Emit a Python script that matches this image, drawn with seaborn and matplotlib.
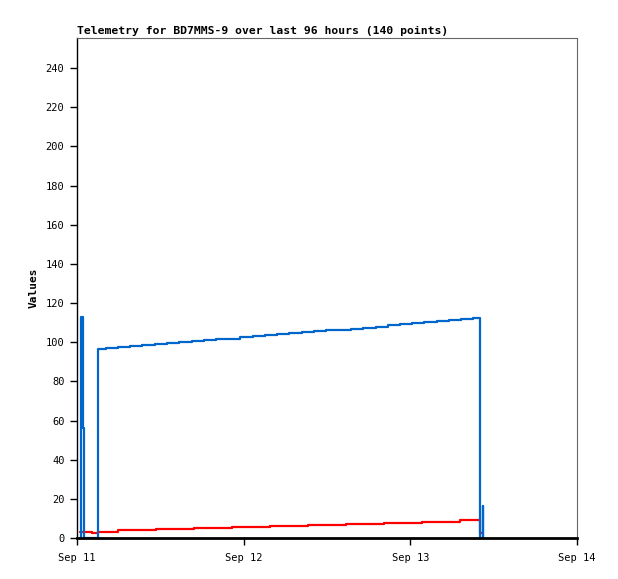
import pandas as pd
import numpy as np
import seaborn as sns
import matplotlib.pyplot as plt
import matplotlib.dates as mdates

# hours after Sep 11 00:00
blue_hours = [0.43, 0.58, 0.82, 0.96,
              3.07, 4.18, 5.95, 7.68, 9.41, 11.23, 12.96, 14.69, 16.52, 18.24, 19.97,
              21.79, 23.47, 25.30, 27.07, 28.84, 30.57, 32.36, 34.13, 35.86, 37.63,
              39.46, 41.23, 43.02, 44.74, 46.51, 48.24, 50.01, 51.80, 53.52, 55.30, 56.98,
              57.99, 58.40, 58.52]
blue_values = [0, 112.7, 56.3, 0,
               96.4, 96.9, 97.4, 97.9, 98.4, 98.9, 99.4, 99.9, 100.4, 100.9, 101.4,
               101.9, 102.5, 103.0, 103.5, 104.0, 104.5, 105.0, 105.5, 106.0, 106.5,
               107.0, 107.5, 108.0, 108.6, 109.1, 109.6, 110.1, 110.6, 111.1, 111.7, 112.2,
               0, 16.3, 0]

red_hours = [0.43, 2.16, 3.02, 5.95, 11.38, 16.85, 22.32, 27.79, 33.26, 38.74,
             44.21, 49.68, 55.15, 57.96, 58.36]
red_values = [3.3, 2.6, 3.3, 4.1, 4.6, 5.2, 5.7, 6.3, 6.8, 7.3,
              7.9, 8.4, 9.0, 2.5, 2.5]

y_ticks = list(range(0, 241, 20))
title = "Telemetry for BD7MMS-9 over last 96 hours (140 points)"

start = pd.Timestamp("2024-09-11")
blue = pd.DataFrame({"time": start + pd.to_timedelta(blue_hours, unit="h"), "value": blue_values})
red = pd.DataFrame({"time": start + pd.to_timedelta(red_hours, unit="h"), "value": red_values})

sns.set_style("ticks")
plt.rcParams['font.family'] = ['DejaVu Sans Mono']
plt.rcParams['text.color'] = 'black'
plt.rcParams['axes.labelcolor'] = 'black'

fig = plt.figure(figsize=(6.18, 5.79), dpi=100)
ax = fig.add_axes([77/618, 1-538/579, 500/618, 500/579])

sns.lineplot(data=red, x="time", y="value", color="#ff0000", linewidth=1.6,
             drawstyle="steps-post", estimator=None, ax=ax)
sns.lineplot(data=blue, x="time", y="value", color="#0066cc", linewidth=1.6,
             drawstyle="steps-post", estimator=None, ax=ax)

ax.set_xlim(start, start + pd.Timedelta(days=3))
ax.set_ylim(0, 255.4)
ax.set_yticks(y_ticks)
ax.xaxis.set_major_locator(mdates.DayLocator())
ax.xaxis.set_major_formatter(mdates.DateFormatter("%b %d"))

ax.tick_params(axis="both", direction="out", length=5, width=1, labelsize=7.5,
               colors="black", pad=4)
ax.tick_params(axis="x", pad=6)
for s in ["top", "right"]:
    ax.spines[s].set_color("#666666")
    ax.spines[s].set_linewidth(0.8)
ax.spines["left"].set_color("black")
ax.spines["left"].set_linewidth(1)
ax.spines["bottom"].set_color("black")
ax.spines["bottom"].set_linewidth(2)
ax.spines["bottom"].set_zorder(5)

ax.set_xlabel("")
ax.set_ylabel("Values", fontsize=8, fontweight="bold", labelpad=5, color="black")
ax.set_title(title, loc="left", fontsize=8.2, fontweight="bold", pad=3, color="black")

fig.savefig("out.png", dpi=100)
